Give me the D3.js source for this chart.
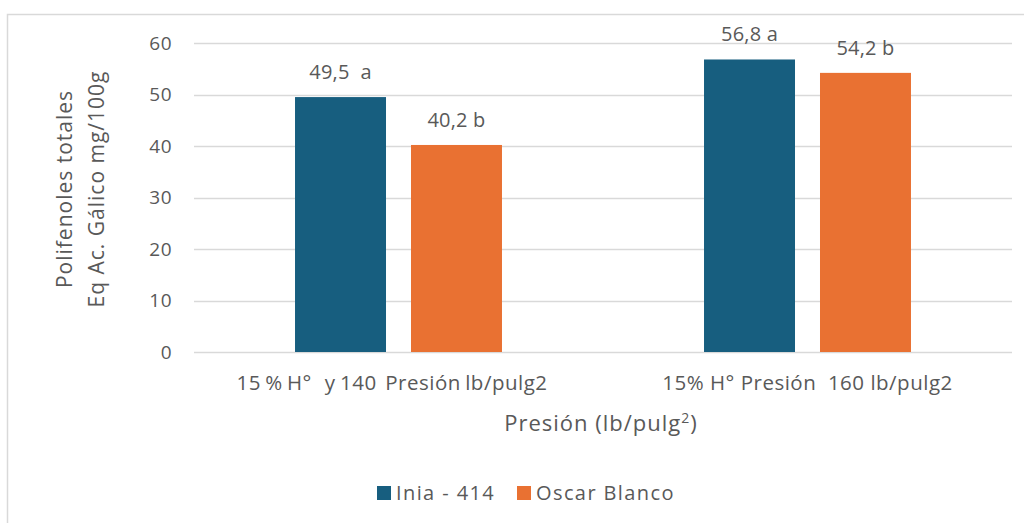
<!DOCTYPE html>
<html>
<head>
<meta charset="utf-8">
<script src="https://cdn.jsdelivr.net/npm/d3@7"></script>
<style>
  html, body { margin: 0; padding: 0; background: #fff; }
  svg text { font-family: "Open Sans", Roboto, "Liberation Sans", sans-serif; fill: #595959; white-space: pre; }
</style>
</head>
<body>
<svg id="chart" width="1024" height="523"></svg>
<script>
// Groups on the x axis (first label carries trailing spaces, as typed)
const categories = ["15 % H°   y 140  Presión lb/pulg2   ", "15% H° Presión  160 lb/pulg2"];
// Series
const seriesNames = ["Inia - 414", "Oscar Blanco"];
const iniaValues = [49.5, 56.8];
const oscarValues = [40.2, 54.2];
// Significance letters shown next to each value
const iniaLetters = ["a", "a"];
const oscarLetters = ["b", "b"];
const yTicks = [0, 10, 20, 30, 40, 50, 60];
const colors = ["#175e7f", "#e97132"];

const svg = d3.select("#chart");

// Chart frame
svg.append("rect")
  .attr("x", 7.5).attr("y", 14.5)
  .attr("width", 1030).attr("height", 520)
  .attr("fill", "none").attr("stroke", "#d9d9d9").attr("stroke-width", 1.5);

const plot = { left: 194, right: 1012, top: 43, bottom: 352 };

const x0 = d3.scaleBand().domain(categories).range([plot.left, plot.right]).paddingInner(0).paddingOuter(0);
const x1 = d3.scaleBand().domain(seriesNames).range([0, x0.bandwidth()]).paddingInner(0.2155).paddingOuter(0.871);
const y = d3.scaleLinear().domain([0, 60]).range([plot.bottom, plot.top]);

// Gridlines
svg.append("g").selectAll("line").data(yTicks).join("line")
  .attr("x1", plot.left).attr("x2", plot.right)
  .attr("y1", d => Math.round(y(d)) + 0.5).attr("y2", d => Math.round(y(d)) + 0.5)
  .attr("stroke", "#d9d9d9").attr("stroke-width", 1.3);

// Y tick labels
svg.append("g").selectAll("text").data(yTicks).join("text")
  .attr("x", 172).attr("y", d => y(d))
  .attr("dy", "0.35em").attr("text-anchor", "end")
  .style("font-size", "19px").style("letter-spacing", "0.5px")
  .text(d => d);

const rows = categories.map((c, i) => ({
  cat: c,
  bars: [
    { s: seriesNames[0], v: iniaValues[i], l: iniaLetters[i], c: colors[0] },
    { s: seriesNames[1], v: oscarValues[i], l: oscarLetters[i], c: colors[1] }
  ]
}));

const groups = svg.append("g").selectAll("g").data(rows).join("g")
  .attr("transform", d => `translate(${x0(d.cat)},0)`);

groups.selectAll("rect").data(d => d.bars).join("rect")
  .attr("x", d => x1(d.s)).attr("width", x1.bandwidth())
  .attr("y", d => y(d.v)).attr("height", d => y(0) - y(d.v))
  .attr("fill", d => d.c);

const fmt = v => d3.format(".1f")(v).replace(".", ",");
groups.selectAll("text").data(d => d.bars).join("text")
  .attr("x", d => x1(d.s) + x1.bandwidth() / 2)
  .attr("y", d => y(d.v) - 18)
  .attr("text-anchor", "middle")
  .style("font-size", "20px").style("letter-spacing", "0.2px")
  .text(d => d.v === 49.5 ? fmt(d.v) + "  " + d.l : fmt(d.v) + " " + d.l);

// Category labels
svg.append("g").selectAll("text").data(categories).join("text")
  .attr("x", d => x0(d) + x0.bandwidth() / 2)
  .attr("y", 390)
  .attr("text-anchor", "middle")
  .style("font-size", "20.5px").style("letter-spacing", "0.5px")
  .style("word-spacing", (d, i) => i === 0 ? "-1.5px" : "0px")
  .text(d => d);

// X axis title
const xt = svg.append("text")
  .attr("x", 601).attr("y", 431)
  .attr("text-anchor", "middle")
  .style("font-size", "22px").style("letter-spacing", "1px");
xt.append("tspan").text("Presión (lb/pulg");
xt.append("tspan").attr("dy", -8).style("font-size", "14px").text("2");
xt.append("tspan").attr("dy", 8).text(")");

// Y axis title (two lines)
const yt = svg.append("text")
  .attr("transform", "translate(72,189) rotate(-90)")
  .attr("text-anchor", "middle")
  .style("font-size", "21px").style("letter-spacing", "1px");
yt.append("tspan").attr("x", 0).attr("y", 0).text("Polifenoles totales");
yt.append("tspan").attr("x", 0).attr("y", 32).text("Eq Ac. Gálico mg/100g");

// Legend
const legend = svg.append("g").attr("transform", "translate(377,486)");
const items = [
  { name: seriesNames[0], color: colors[0], x: 0 },
  { name: seriesNames[1], color: colors[1], x: 140 }
];
const li = legend.selectAll("g").data(items).join("g")
  .attr("transform", d => `translate(${d.x},0)`);
li.append("rect").attr("width", 14).attr("height", 14).attr("fill", d => d.color);
li.append("text").attr("x", 19).attr("y", 7).attr("dy", "0.35em")
  .style("font-size", "20px").style("letter-spacing", "1.4px").text(d => d.name);
</script>
</body>
</html>
